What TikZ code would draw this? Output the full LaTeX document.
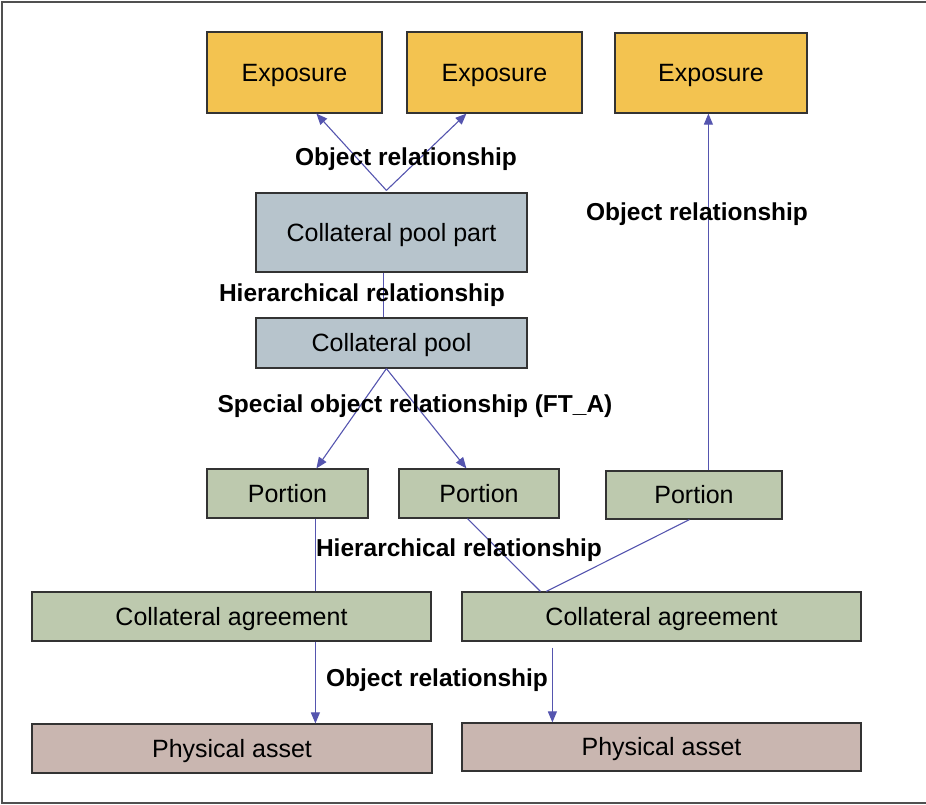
\documentclass[tikz,border=0pt]{standalone}
\usepackage{fontspec}
\setmainfont{Liberation Sans}
\usetikzlibrary{arrows.meta,calc}
\definecolor{expo}{RGB}{243,195,80}
\definecolor{pool}{RGB}{183,196,204}
\definecolor{port}{RGB}{189,201,174}
\definecolor{phys}{RGB}{201,182,176}
\definecolor{conn}{RGB}{85,85,175}
\definecolor{frame}{RGB}{80,80,80}
\tikzset{
  box/.style={draw=black!80, line width=1.2pt, minimum width=#1, inner sep=0pt, text height=18pt, text depth=1pt, font=\fontsize{25}{27}\selectfont},
  conline/.style={draw=conn, line width=1.1pt},
  arr/.style={conline, -{Triangle[length=11pt,width=9pt]}},
  lbl/.style={font=\fontsize{24.5}{26}\selectfont\bfseries, inner sep=0pt, text height=18pt, text depth=1pt}
}
\begin{document}
\begin{tikzpicture}[x=1pt,y=-1pt]
\useasboundingbox (0,0) rectangle (926,804);
\draw[frame, line width=2pt] (926,1.5) -- (1.5,1.5) -- (1.5,802.5) -- (926,802.5);

% boxes
\node[box=175pt, minimum height=81pt, fill=expo] (E1) at (294.5,72.5) {Exposure};
\node[box=175pt, minimum height=81pt, fill=expo] (E2) at (494.5,72.5) {Exposure};
\node[box=192pt, minimum height=80pt, fill=expo] (E3) at (711,73) {Exposure};
\node[box=271pt, minimum height=79pt, fill=pool] (CPP) at (391.5,232.5) {Collateral pool part};
\node[box=271pt, minimum height=50pt, fill=pool] (CP) at (391.5,343) {Collateral pool};
\node[box=161pt, minimum height=49pt, fill=port] (P1) at (287.5,493.5) {Portion};
\node[box=160pt, minimum height=49pt, fill=port] (P2) at (479,493.5) {Portion};
\node[box=176pt, minimum height=48pt, fill=port] (P3) at (694,495) {Portion};
\node[box=399pt, minimum height=49pt, fill=port] (CA1) at (231.5,616.5) {Collateral agreement};
\node[box=399pt, minimum height=49pt, fill=port] (CA2) at (661.5,616.5) {Collateral agreement};
\node[box=400pt, minimum height=49pt, fill=phys] (PA1) at (232,748.5) {Physical asset};
\node[box=399pt, minimum height=48pt, fill=phys] (PA2) at (661.5,747) {Physical asset};

% connectors
\coordinate (apex1) at ($(CPP.north west)+(131,-2)$);
\draw[arr] (apex1) -- ($(E1.south west)+(110,0)$);
\draw[arr] (apex1) -- ($(E2.south west)+(60,0)$);
\draw[arr] ($(P3.north west)+(103,0)$) -- ($(E3.south west)+(94,0)$);
\draw[conline] ($(CPP.south west)+(128,0)$) -- ($(CP.north west)+(128,0)$);
\coordinate (apex2) at ($(CP.south west)+(131,0)$);
\draw[arr] (apex2) -- ($(P1.north west)+(110,0)$);
\draw[arr] (apex2) -- ($(P2.north west)+(68,0)$);
\draw[conline] ($(P1.south west)+(109,0)$) -- ($(CA1.north west)+(284,0)$);
\coordinate (join) at ($(CA2.north west)+(82,0)$);
\draw[conline] ($(P2.south west)+(69,0)$) -- ($(join)+(-3,0)$);
\draw[conline] ($(P3.south west)+(84,0)$) -- ($(join)+(3,0)$);
\draw[arr] ($(CA1.south west)+(284,0)$) -- ($(PA1.north west)+(284,0)$);
\coordinate (ca2start) at ($(CA2.south west)+(91,6)$);
\draw[arr] (ca2start) -- ($(PA2.north west)+(91,0)$);

% labels
\node[lbl] (L1) at (406,157) {Object relationship};
\node[lbl] (L2) at (697,212) {Object relationship};
\node[lbl] (L3) at (362,293) {Hierarchical relationship};
\node[lbl] (L4) at (415,404) {Special object relationship (FT\_A)};
\node[lbl] (L5) at (459,548) {Hierarchical relationship};
\node[lbl] (L6) at (437,678) {Object relationship};
\end{tikzpicture}
\end{document}
